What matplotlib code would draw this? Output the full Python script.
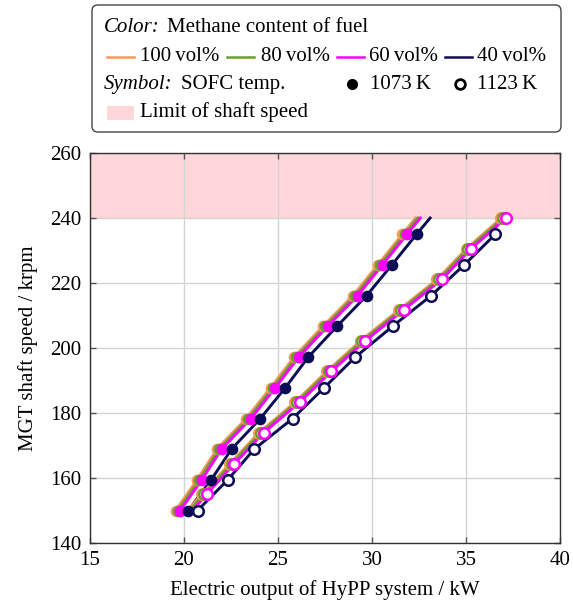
import matplotlib
matplotlib.use("Agg")
import matplotlib.pyplot as plt
from matplotlib.patches import FancyBboxPatch, Rectangle
from matplotlib.lines import Line2D

plt.rcParams["font.family"] = "serif"
plt.rcParams["font.serif"] = ["Liberation Serif", "DejaVu Serif"]
plt.rcParams["font.size"] = 15

# shaft speed (krpm) for the SOFC at 1073 K; last point is where the curve meets the limit
speed_1073 = [150.0, 159.4, 168.9, 178.3, 187.8, 197.2, 206.7, 216.1, 225.6, 235.0, 240.0]
power_1073_ch4_100 = [19.55, 20.69, 21.75, 23.31, 24.61, 25.85, 27.39, 28.98, 30.31, 31.61, 32.32]
power_1073_ch4_80 = [19.67, 20.81, 21.87, 23.43, 24.73, 25.97, 27.51, 29.10, 30.43, 31.73, 32.44]
power_1073_ch4_60 = [19.80, 20.94, 22.00, 23.56, 24.86, 26.10, 27.64, 29.23, 30.56, 31.86, 32.57]
power_1073_ch4_40 = [20.23, 21.44, 22.53, 24.06, 25.39, 26.61, 28.14, 29.71, 31.06, 32.37, 33.09]

# shaft speed for the SOFC at 1123 K; first point is the start of the curve (no symbol)
speed_1123 = [150.0, 155.0, 164.4, 173.9, 183.3, 192.8, 202.2, 211.7, 221.1, 230.6, 240.0]
power_1123_ch4_100 = [20.20, 20.95, 22.43, 23.98, 25.90, 27.59, 29.39, 31.43, 33.46, 35.03, 36.88]
power_1123_ch4_80 = [20.30, 21.05, 22.53, 24.08, 26.00, 27.69, 29.49, 31.53, 33.56, 35.13, 36.98]
power_1123_ch4_60 = [20.45, 21.20, 22.68, 24.23, 26.15, 27.84, 29.64, 31.68, 33.71, 35.28, 37.13]
speed_1123_ch4_40 = [150.0, 159.4, 168.9, 178.3, 187.8, 197.2, 206.7, 216.1, 225.6, 235.0]
power_1123_ch4_40 = [20.72, 22.32, 23.74, 25.78, 27.46, 29.11, 31.10, 33.14, 34.91, 36.56]

speed_limit = [240, 260]

methane_labels = ["100\u2009vol%", "80\u2009vol%", "60\u2009vol%", "40\u2009vol%"]
colors = ["#F7995C", "#6A9F2E", "#FF00FF", "#0C0C55"]

W, H = 573, 605
fig = plt.figure(figsize=(W / 100, H / 100), dpi=100)
ax = fig.add_axes([90 / W, 1 - 543 / H, 470 / W, 390 / H])

ax.axhspan(speed_limit[0], speed_limit[1], color="#FFD6D9", lw=0, zorder=0.3)

lw = 2.1
hot = [power_1073_ch4_100, power_1073_ch4_80, power_1073_ch4_60, power_1073_ch4_40]
hotter = [(power_1123_ch4_100, speed_1123, slice(1, 11)),
          (power_1123_ch4_80, speed_1123, slice(1, 11)),
          (power_1123_ch4_60, speed_1123, slice(1, 11)),
          (power_1123_ch4_40, speed_1123_ch4_40, slice(0, 10))]

# curves first, symbols on top
for p, c in zip(hot, colors):
    ax.plot(p, speed_1073, color=c, lw=lw, zorder=3)
for (p, s, _), c in zip(hotter, colors):
    ax.plot(p, s, color=c, lw=lw, zorder=3)
for p, c in zip(hot, colors):
    ax.plot(p[:10], speed_1073[:10], ls="none", marker="o", ms=8.4, mew=0,
            color=c, zorder=4)
for (p, s, sl), c in zip(hotter, colors):
    ax.plot(p[sl], s[sl], ls="none", marker="o", ms=7.6, mew=1.8,
            mfc="white", mec=c, zorder=4)

ax.set_xlim(15, 40)
ax.set_ylim(140, 260)
ax.set_xticks(range(15, 41, 5))
ax.set_yticks(range(140, 261, 20))
ax.set_axisbelow(True)
ax.grid(color="#D3D3D3", lw=1.0)
ax.tick_params(direction="in", length=4, width=1, color="#555555",
               top=True, right=True, labelsize=15, pad=6)
for sp in ax.spines.values():
    sp.set_color("#333333")
    sp.set_linewidth(1.0)

ax.set_xlabel("Electric output of HyPP system / kW", fontsize=15, labelpad=7)
ax.set_ylabel("MGT shaft speed / krpm", fontsize=15, labelpad=9)


def fx(px):
    return px / W


def fy(py):
    return 1 - py / H


# legend box drawn in figure pixels
box = FancyBboxPatch((fx(92), fy(132)), fx(561) - fx(92), fy(5) - fy(132),
                     boxstyle="round,pad=0,rounding_size=0.01",
                     transform=fig.transFigure, fc="white", ec="#444444", lw=1.0)
fig.patches.append(box)

fs = 15
fig.text(fx(104), fy(32), "Color:", style="italic", fontsize=fs, va="baseline")
fig.text(fx(167), fy(32), "Methane content of fuel", fontsize=fs, va="baseline")

line_x = [107, 227, 337, 445]
text_x = [140, 261, 369, 477]
for lx, tx, c, lab in zip(line_x, text_x, colors, methane_labels):
    fig.lines.append(Line2D([fx(lx), fx(lx + 27)], [fy(57), fy(57)],
                            transform=fig.transFigure, color=c, lw=1.8))
    fig.text(fx(tx), fy(61), lab, fontsize=fs, va="baseline")

fig.text(fx(104), fy(89), "Symbol:", style="italic", fontsize=fs, va="baseline")
fig.text(fx(181), fy(89), "SOFC temp.", fontsize=fs, va="baseline")
fig.lines.append(Line2D([fx(352)], [fy(84)], transform=fig.transFigure,
                        marker="o", ms=8, mew=0, color="black", ls="none"))
fig.text(fx(370), fy(89), "1073\u2009K", fontsize=fs, va="baseline")
fig.lines.append(Line2D([fx(460)], [fy(84)], transform=fig.transFigure,
                        marker="o", ms=7, mew=2.0, mfc="white", mec="black", ls="none"))
fig.text(fx(477), fy(89), "1123\u2009K", fontsize=fs, va="baseline")

fig.patches.append(Rectangle((fx(107), fy(120)), fx(134) - fx(107), fy(106) - fy(120),
                             transform=fig.transFigure, fc="#FFD6D9", ec="none"))
fig.text(fx(140), fy(117), "Limit of shaft speed", fontsize=fs, va="baseline")

fig.savefig("out.png", dpi=100)
